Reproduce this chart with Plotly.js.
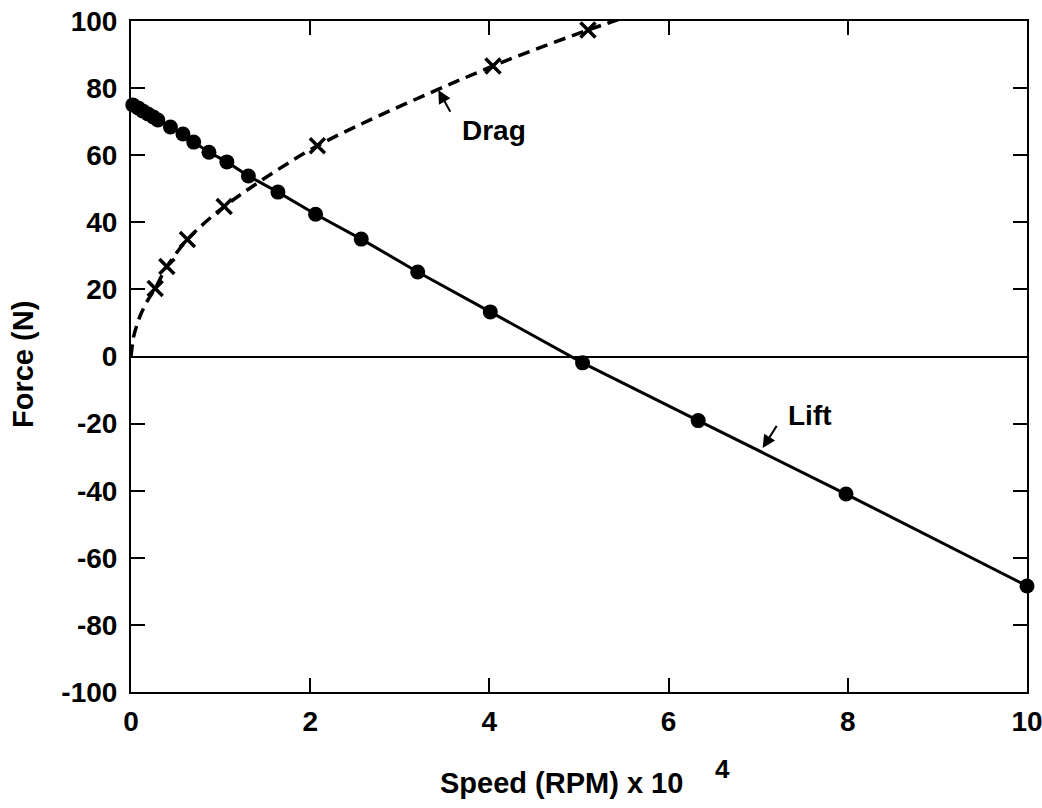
<!DOCTYPE html>
<html>
<head>
<meta charset="utf-8">
<script src="https://cdn.plot.ly/plotly-3.0.1.min.js"></script>
<style>html,body{margin:0;padding:0;background:#fff;}#chart{width:1042px;height:808px;}</style>
</head>
<body>
<div id="chart"></div>
<script>
// Lift (filled circles, solid line)
const liftSpeed = [0.02, 0.08, 0.13, 0.19, 0.25, 0.30, 0.44, 0.58, 0.70, 0.87, 1.07, 1.31, 1.64, 2.06, 2.57, 3.20, 4.01, 5.04, 6.33, 7.98, 10.0];
const liftForce = [75.0, 74.1, 73.2, 72.3, 71.4, 70.5, 68.4, 66.3, 63.9, 60.9, 58.0, 53.8, 49.0, 42.4, 35.0, 25.2, 13.3, -1.9, -19.1, -41.0, -68.4];

// Drag (x markers)
const dragSpeed = [0.27, 0.40, 0.63, 1.04, 2.08, 4.04, 5.10];
const dragForce = [20.3, 26.8, 34.9, 44.7, 62.8, 86.6, 97.3];

// Drag dashed curve
const dragCurveSpeed = [0.0, 0.03, 0.10, 0.18, 0.27, 0.40, 0.63, 1.04, 2.08, 4.04, 5.10, 5.45];
const dragCurveForce = [0.0, 6.0, 12.0, 16.5, 20.3, 26.8, 34.9, 44.7, 62.8, 86.6, 97.3, 100.5];

// Tick labels
const xTickVals = [0, 2, 4, 6, 8, 10];
const xTickText = ["0", "2", "4", "6", "8", "10"];
const yTickVals = [-100, -80, -60, -40, -20, 0, 20, 40, 60, 80, 100];
const yTickText = ["-100", "-80", "-60", "-40", "-20", "0", "20", "40", "60", "80", "100"];

const FONT = "Liberation Sans, Arial, Helvetica, sans-serif";

const traces = [
  {
    x: dragCurveSpeed, y: dragCurveForce, type: 'scatter', mode: 'lines',
    line: {color: 'black', width: 3.5, dash: '12px,7px', shape: 'spline', smoothing: 0.8},
    hoverinfo: 'skip', showlegend: false
  },
  {
    x: dragSpeed, y: dragForce, type: 'scatter', mode: 'markers',
    marker: {symbol: 'x-thin', size: 15, color: 'black', line: {width: 3.5, color: 'black'}},
    cliponaxis: false, showlegend: false
  },
  {
    x: liftSpeed, y: liftForce, type: 'scatter', mode: 'lines+markers',
    line: {color: 'black', width: 3},
    marker: {symbol: 'circle', size: 15, color: 'black'},
    cliponaxis: false, showlegend: false
  }
];

const axisCommon = {
  showgrid: false, showline: true, linecolor: 'black', linewidth: 2,
  mirror: 'ticks', ticks: 'inside', ticklen: 14, tickwidth: 2, tickcolor: 'black',
  ticklabeloverflow: 'allow',
  tickfont: {family: FONT, size: 28, color: 'black', weight: 'bold'}
};

const layout = {
  width: 1042, height: 808,
  margin: {l: 131, r: 15, t: 21, b: 116, pad: 0},
  paper_bgcolor: 'white', plot_bgcolor: 'white',
  showlegend: false,
  xaxis: Object.assign({}, axisCommon, {
    range: [0, 10], tickmode: 'array', tickvals: xTickVals, ticktext: xTickText,
    zeroline: false, ticklabelstandoff: 3
  }),
  yaxis: Object.assign({}, axisCommon, {
    range: [-100, 100], tickmode: 'array', tickvals: yTickVals, ticktext: yTickText,
    zeroline: true, zerolinecolor: 'black', zerolinewidth: 2, ticklabelstandoff: 6
  }),
  annotations: [
    {xref: 'paper', yref: 'paper', x: (561 - 131) / 896, y: -(783 - 692) / 671,
     xanchor: 'center', yanchor: 'middle', showarrow: false,
     text: 'Speed (RPM) x 10', font: {family: FONT, size: 29, color: 'black', weight: 'bold'}},
    {xref: 'paper', yref: 'paper', x: (722 - 131) / 896, y: -(769 - 692) / 671,
     xanchor: 'center', yanchor: 'middle', showarrow: false,
     text: '4', font: {family: FONT, size: 26, color: 'black', weight: 'bold'}},
    {xref: 'paper', yref: 'paper', x: -(131 - 23) / 896, y: (692 - 365) / 671,
     xanchor: 'center', yanchor: 'middle', showarrow: false, textangle: -90,
     text: 'Force (N)', font: {family: FONT, size: 29, color: 'black', weight: 'bold'}},
    {x: 3.43, y: 79.4, xref: 'x', yref: 'y', text: ' ', showarrow: true,
     ax: 15, ay: 27, arrowhead: 2, arrowsize: 1.3, arrowwidth: 2, arrowcolor: 'black', standoff: 0},
    {x: 3.43, y: 79.4, xref: 'x', yref: 'y', text: 'Drag', showarrow: false,
     xshift: 494 - 438, yshift: 90 - 130, xanchor: 'center', yanchor: 'middle',
     font: {family: FONT, size: 28, color: 'black', weight: 'bold'}},
    {x: 7.05, y: -27.3, xref: 'x', yref: 'y', text: ' ', showarrow: true,
     ax: 17, ay: -27, arrowhead: 2, arrowsize: 1.3, arrowwidth: 2, arrowcolor: 'black', standoff: 0},
    {x: 7.05, y: -27.3, xref: 'x', yref: 'y', text: 'Lift', showarrow: false,
     xshift: 810 - 763, yshift: 448 - 415, xanchor: 'center', yanchor: 'middle',
     font: {family: FONT, size: 28, color: 'black', weight: 'bold'}}
  ]
};

Plotly.newPlot('chart', traces, layout, {staticPlot: true, displayModeBar: false});
</script>
</body>
</html>
